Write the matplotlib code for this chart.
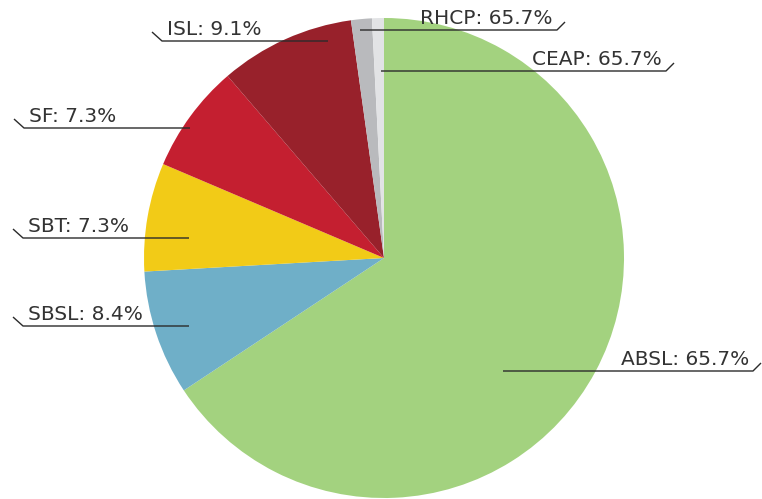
import matplotlib
matplotlib.use("Agg")
import matplotlib.pyplot as plt

categories = ["ABSL", "SBSL", "SBT", "SF", "ISL", "RHCP", "CEAP"]
values = [65.7, 8.4, 7.3, 7.3, 9.1, 1.4, 0.8]
label_pcts = ["65.7%", "8.4%", "7.3%", "7.3%", "9.1%", "65.7%", "65.7%"]
colors = ["#a3d27f", "#6fafc8", "#f2cb17", "#c41f30", "#98212b", "#b9babd", "#e2e3e5"]

W, H = 762, 499
fig = plt.figure(figsize=(W / 100, H / 100), dpi=100)
ax = fig.add_axes([0, 0, 1, 1])

cx, cy, r = 384, H - 258, 240
ax.pie(values, colors=colors, startangle=90, counterclock=False,
       center=(cx, cy), radius=r, frame=True,
       wedgeprops=dict(linewidth=0))
ax.set_xlim(0, W)
ax.set_ylim(0, H)
ax.set_aspect("equal")
ax.axis("off")

# leader layout: (inner x, outer x, line y in pixel, side)
layout = {
    "ABSL": (503, 753, 371, "right"),
    "SBSL": (189, 23, 326, "left"),
    "SBT": (189, 23, 238, "left"),
    "SF": (190, 24, 128, "left"),
    "ISL": (328, 162, 41, "left"),
    "RHCP": (360, 557, 30, "right"),
    "CEAP": (381, 666, 71, "right"),
}

for cat, pct in zip(categories, label_pcts):
    x0, x1, ly, side = layout[cat]
    y = H - ly
    if side == "left":
        xs = [x0, x1, x1 - 10]
        ys = [y, y, y + 9]
        tx, ha = x1 + 5, "left"
    else:
        xs = [x0, x1, x1 + 8]
        ys = [y, y, y + 8]
        tx, ha = x1 - 4, "right"
    ax.plot(xs, ys, color="#2b2b2b", linewidth=1.0, solid_capstyle="butt")
    ax.text(tx, y + 2, f"{cat}: {pct}", ha=ha, va="bottom",
            fontsize=14.5, color="#333333", family="DejaVu Sans")

fig.savefig("out.png", dpi=100)
